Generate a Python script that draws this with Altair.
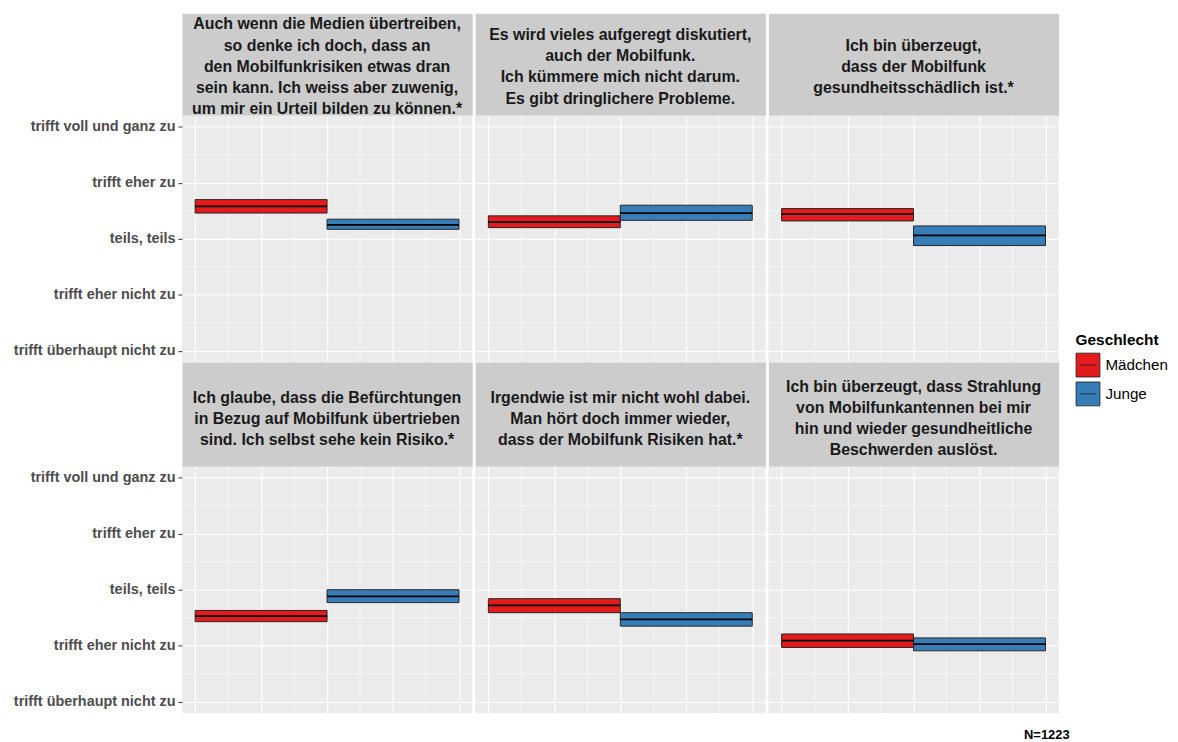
import json
import altair as alt
import pandas as pd

# ---------------- data ----------------
statements = [
    ["Auch wenn die Medien übertreiben,", "so denke ich doch, dass an",
     "den Mobilfunkrisiken etwas dran", "sein kann. Ich weiss aber zuwenig,",
     "um mir ein Urteil bilden zu können.*"],
    ["Es wird vieles aufgeregt diskutiert,", "auch der Mobilfunk.",
     "Ich kümmere mich nicht darum.", "Es gibt dringlichere Probleme."],
    ["Ich bin überzeugt,", "dass der Mobilfunk", "gesundheitsschädlich ist.*"],
    ["Ich glaube, dass die Befürchtungen", "in Bezug auf Mobilfunk übertrieben",
     "sind. Ich selbst sehe kein Risiko.*"],
    ["Irgendwie ist mir nicht wohl dabei.", "Man hört doch immer wieder,",
     "dass der Mobilfunk Risiken hat.*"],
    ["Ich bin überzeugt, dass Strahlung", "von Mobilfunkantennen bei mir",
     "hin und wieder gesundheitliche", "Beschwerden auslöst."],
]
genders = ["Mädchen", "Junge"]
maedchen_low = [3.46, 3.20, 3.32, 2.43, 2.59, 1.97]
maedchen_mean = [3.58, 3.30, 3.44, 2.53, 2.72, 2.09]
maedchen_high = [3.70, 3.41, 3.54, 2.63, 2.84, 2.21]
junge_low = [3.17, 3.33, 2.88, 2.77, 2.35, 1.91]
junge_mean = [3.25, 3.46, 3.06, 2.88, 2.47, 2.03]
junge_high = [3.35, 3.60, 3.23, 3.00, 2.59, 2.14]

scale_values = [1, 2, 3, 4, 5]
scale_labels = ["trifft überhaupt nicht zu", "trifft eher nicht zu", "teils, teils",
                "trifft eher zu", "trifft voll und ganz zu"]
y_minor = [1.5, 2.5, 3.5, 4.5]
x_major = [0.5, 1, 1.5, 2, 2.5]
x_minor = [0.75, 1.25, 1.75, 2.25]
colors = ["#E41A1C", "#377EB8"]
n_label = "N=1223"

FONT = "Liberation Sans"
PW, PH = 292, 248
STRIP_H = [103, 105]
STRIP_DY = [2.5, 4.5]
LH = 21.3

label_expr = json.dumps(scale_labels) + "[datum.value - 1]"


def plot_panel(i, first):
    df = pd.DataFrame({
        "Geschlecht": genders,
        "low": [maedchen_low[i], junge_low[i]],
        "mean": [maedchen_mean[i], junge_mean[i]],
        "high": [maedchen_high[i], junge_high[i]],
    })
    xscale = alt.Scale(domain=[0.4, 2.6], nice=False, zero=False)
    yscale = alt.Scale(domain=[0.8, 5.2], nice=False, zero=False)
    xaxis = alt.Axis(values=x_major, grid=True, gridColor="white", gridWidth=1.1,
                     labels=False, ticks=False, domain=False, title=None)
    if first:
        yaxis = alt.Axis(values=scale_values, labelExpr=label_expr, grid=True,
                         gridColor="white", gridWidth=1.1, domain=False,
                         labelFont=FONT, labelFontSize=14.5, labelFontWeight="bold",
                         labelColor="#4D4D4D", tickColor="#333333", tickSize=4,
                         tickWidth=1, labelPadding=3, title=None)
    else:
        yaxis = alt.Axis(values=scale_values, grid=True, gridColor="white",
                         gridWidth=1.1, domain=False, labels=False, ticks=False,
                         title=None)

    vminor = alt.Chart(pd.DataFrame({"v": x_minor})).mark_rule(
        color="white", strokeWidth=0.55).encode(
        x=alt.X("v:Q", scale=xscale, axis=xaxis))
    hminor = alt.Chart(pd.DataFrame({"v": y_minor})).mark_rule(
        color="white", strokeWidth=0.55).encode(
        y=alt.Y("v:Q", scale=yscale, axis=yaxis))

    base = alt.Chart(df).transform_calculate(
        pos="datum.Geschlecht === 'Mädchen' ? 1 : 2"
    ).transform_calculate(xmin="datum.pos - 0.5", xmax="datum.pos + 0.5")

    legend = alt.Legend(
        title="Geschlecht", orient="none", legendX=899, legendY=322,
        titleFont=FONT, titleFontSize=15.5, titleFontWeight="bold", titleColor="#000000",
        labelFont=FONT, labelFontSize=15.3, labelColor="#000000",
        symbolType="M-1,-1H1V1H-1Z M-0.7,0H0.7", symbolSize=576,
        symbolStrokeColor="#1A1A1A", symbolStrokeWidth=0.8, symbolOpacity=1,
        rowPadding=0, labelOffset=5, titlePadding=4,
    )
    rects = base.mark_rect(stroke="#262626", strokeWidth=1).encode(
        x=alt.X("xmin:Q", scale=xscale, axis=xaxis),
        x2="xmax:Q",
        y=alt.Y("low:Q", scale=yscale, axis=yaxis),
        y2="high:Q",
        fill=alt.Fill("Geschlecht:N", scale=alt.Scale(domain=genders, range=colors),
                      legend=legend),
    )
    mids = base.mark_rule(color="black", strokeWidth=1.8).encode(
        x=alt.X("xmin:Q", scale=xscale, axis=xaxis),
        x2="xmax:Q",
        y=alt.Y("mean:Q", scale=yscale, axis=yaxis),
    )
    return alt.layer(vminor, hminor, rects, mids).properties(
        width=PW, height=PH,
        view=alt.ViewBackground(fill="#EBEBEB", stroke="transparent"))


def strip_panel(i, row):
    n = len(statements[i])
    return alt.Chart(alt.Data(values=[{"label": statements[i]}])).mark_text(
        font=FONT, fontSize=16, fontWeight="bold", color="#1A1A1A",
        lineHeight=LH, align="center", baseline="middle",
        dy=STRIP_DY[row] - (n - 1) * LH / 2,
    ).encode(text="label:N").properties(
        width=PW, height=STRIP_H[row],
        view=alt.ViewBackground(fill="#CCCCCC", stroke="transparent"))


items = []
for r in range(2):
    items += [strip_panel(r * 3 + c, r) for c in range(3)]
    items += [plot_panel(r * 3 + c, c == 0) for c in range(3)]

chart = alt.concat(
    *items, columns=3, spacing=alt.RowColnumber(row=0, column=3), bounds="flush"
).properties(
    title=alt.TitleParams(n_label, orient="bottom", anchor="end", font=FONT,
                          fontSize=13, fontWeight="bold", color="#000000",
                          offset=16, dx=-99),
    padding={"left": 5, "top": 2, "right": 2, "bottom": 2},
).configure_view(strokeWidth=0)

chart.save("out.html", embed_options={"renderer": "svg", "actions": False})
